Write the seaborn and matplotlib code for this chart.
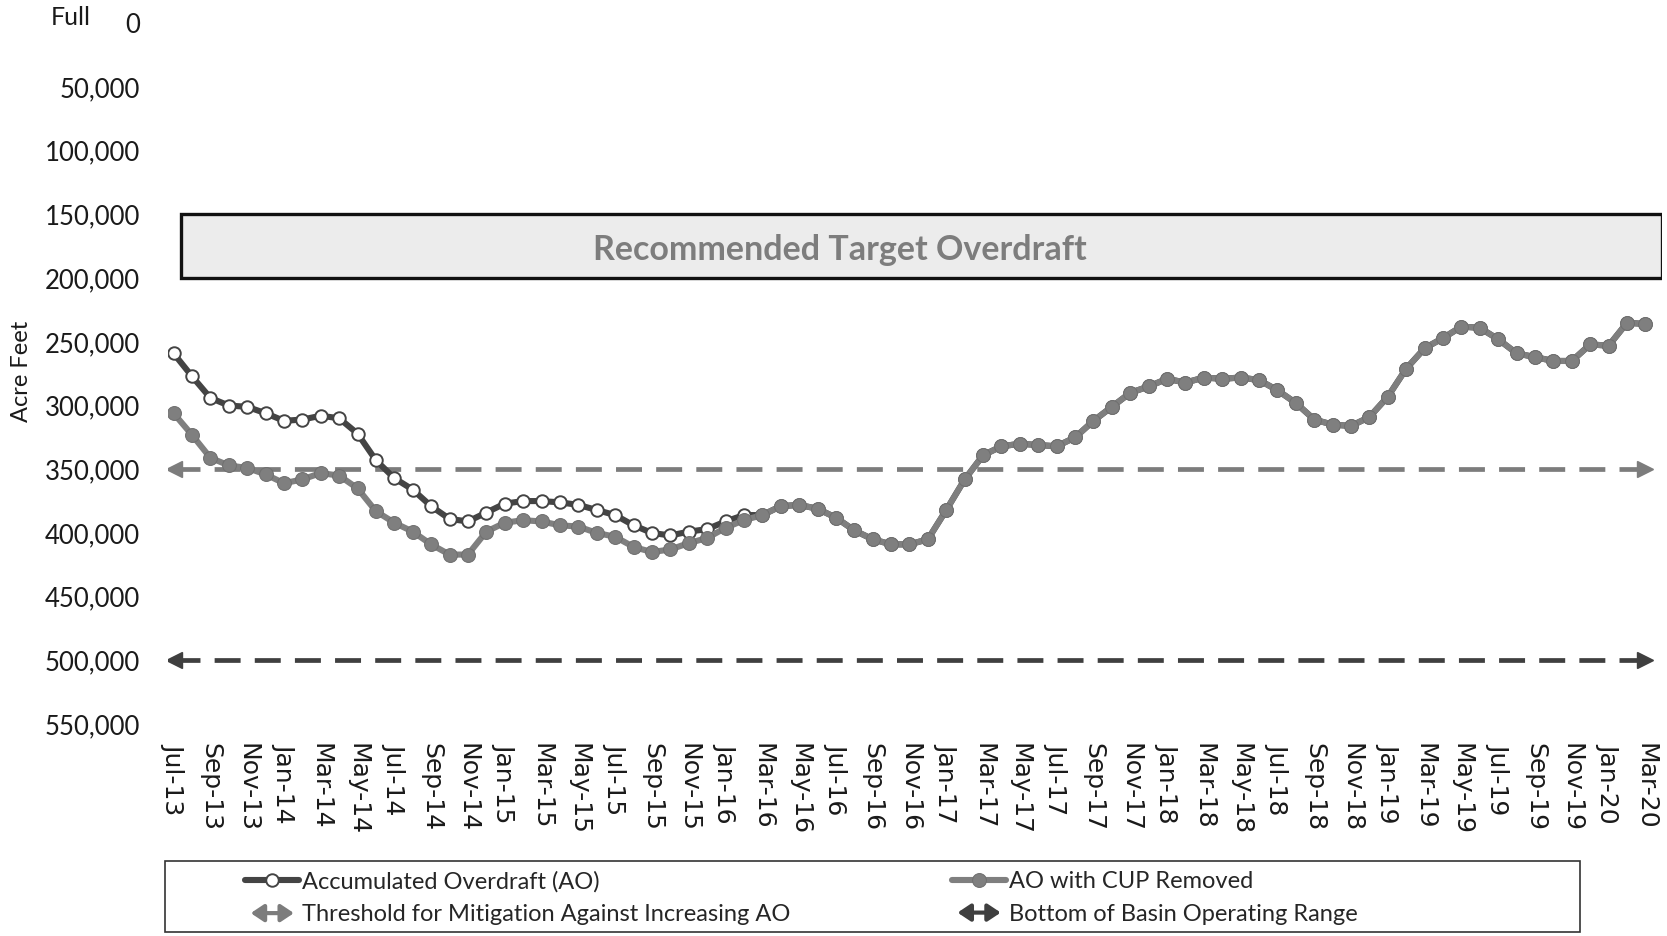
import numpy as np
import pandas as pd
import matplotlib
matplotlib.use("Agg")
from matplotlib import pyplot as plt
from matplotlib.patches import Rectangle, FancyArrowPatch
from matplotlib.legend_handler import HandlerBase
from matplotlib.ticker import FuncFormatter
import seaborn as sns

# monthly, Jul-13 .. Mar-20
months = pd.date_range("2013-07-01", "2020-03-01", freq="MS")
month_labels = [m.strftime("%b-%y") for m in months]

# Accumulated Overdraft (AO), Jul-13 .. Feb-16 (after that it equals the CUP-removed series)
ao = [259000, 277000, 294000, 300000, 301000, 306000, 312000, 311000, 308000, 310000,
      322000, 343000, 357000, 366000, 379000, 389000, 391000, 384000, 377000, 375000,
      375000, 376000, 378000, 382000, 386000, 394000, 400000, 402000, 399000, 397000,
      391000, 386000]

# AO with CUP removed, Jul-13 .. Mar-20
cup = [306000, 323000, 341000, 347000, 349000, 354000, 361000, 358000, 353000, 355000,
       365000, 383000, 392000, 399000, 409000, 417000, 417000, 399000, 392000, 390000,
       391000, 394000, 395000, 400000, 403000, 411000, 415000, 413000, 408000, 404000,
       396000, 390000, 386000, 379000, 378000, 381000, 388000, 398000, 405000, 409000,
       409000, 405000, 382000, 358000, 339000, 332000, 330000, 331000, 332000, 325000,
       312000, 301000, 290000, 285000, 279000, 282000, 278000, 279000, 278000, 280000,
       288000, 298000, 311000, 315000, 316000, 309000, 293000, 271000, 255000, 247000,
       238000, 239000, 248000, 259000, 262000, 265000, 265000, 252000, 253000, 235000,
       236000]

threshold = 350000      # mitigation against increasing AO
basin_bottom = 500000   # bottom of basin operating range
target_band = (150000, 200000)

ao_full = ao + cup[len(ao):]
df = pd.DataFrame({"idx": np.arange(len(months)), "AO": ao_full, "CUP": cup})


class ArrowHandler(HandlerBase):
    # double headed arrow for the legend
    def create_artists(self, legend, orig_handle, xdescent, ydescent, width, height, fontsize, trans):
        y = height / 2 - ydescent
        arr = FancyArrowPatch((-xdescent + 4, y), (width - xdescent - 4, y),
                              arrowstyle="<|-|>,head_length=0.45,head_width=0.3",
                              mutation_scale=fontsize, color=orig_handle.get_color(),
                              lw=3, shrinkA=0, shrinkB=0, transform=trans)
        return [arr]


def main():
    sns.set_style("white")
    plt.rcParams["font.family"] = ["Lato", "DejaVu Sans"]

    fig = plt.figure(figsize=(16.67, 9.36), dpi=100)
    ax = fig.add_axes([0.1008, 0.2265, 0.8962, 0.7485])

    # target band
    ax.add_patch(Rectangle((0.4, target_band[0]), 80.5, target_band[1] - target_band[0],
                           facecolor="#ececec", edgecolor="#111111", lw=2.4, zorder=1))
    ax.text(36.2, 178000, "Recommended Target Overdraft", ha="center", va="center",
            fontsize=24.5, fontweight="bold", color="#7d7d7d", zorder=2)

    # threshold lines with arrow ends
    x_ends = [df["idx"].iloc[0], df["idx"].iloc[-1]]
    thr_line, = ax.plot(x_ends, [threshold] * 2, color="#7c7c7c", lw=3.4, dashes=(5.5, 3), zorder=3)
    bot_line, = ax.plot(x_ends, [basin_bottom] * 2, color="#3f3f3f", lw=3.4, dashes=(5.5, 3), zorder=3)
    for y, c in [(threshold, "#7c7c7c"), (basin_bottom, "#3f3f3f")]:
        ax.plot(x_ends[0], y, marker="<", ms=11, color=c, zorder=3)
        ax.plot(x_ends[1], y, marker=">", ms=11, color=c, zorder=3)

    sns.lineplot(data=df, x="idx", y="AO", ax=ax, color="#444444", lw=4.4, marker="o", ms=9,
                 markerfacecolor="white", markeredgecolor="#444444", markeredgewidth=1.4, zorder=4)
    sns.lineplot(data=df, x="idx", y="CUP", ax=ax, color="#7f7f7f", lw=4.4, marker="o", ms=10,
                 markerfacecolor="#7f7f7f", markeredgecolor="#707070", zorder=5)
    ao_line, cup_line = ax.lines[-2], ax.lines[-1]

    ax.set_ylim(550000, 0)
    ax.set_xlim(-0.3, 80.9)
    ax.set_yticks(np.arange(0, 550001, 50000))
    ax.yaxis.set_major_formatter(FuncFormatter(lambda v, p: f"{int(v):,}"))
    ax.set_xticks(df["idx"][::2])
    ax.set_xticklabels(month_labels[::2], rotation=270, family="DejaVu Sans")
    ax.tick_params(axis="y", length=0, pad=20, labelsize=18.5, labelcolor="#1a1a1a")
    ax.tick_params(axis="x", length=0, pad=14, labelsize=18, labelcolor="#1a1a1a")
    ax.set_xlabel("")
    ax.set_ylabel("")
    for s in ax.spines.values():
        s.set_visible(False)

    ax.text(-0.052, 1.008, "Full", transform=ax.transAxes, ha="right", va="center",
            fontsize=18, color="#1a1a1a")
    fig.text(0.0126, 0.603, "Acre Feet", rotation=90, ha="center", va="center",
             fontsize=17, color="#1a1a1a")

    # legend, two columns in one frame
    fig.patches.append(Rectangle((0.099, 0.004), 0.849, 0.076, transform=fig.transFigure,
                                 facecolor="white", edgecolor="#333333", lw=1.2))
    hmap = {thr_line: ArrowHandler(), bot_line: ArrowHandler()}
    leg_kw = dict(loc="upper left", frameon=False, fontsize=17, handlelength=2.3,
                  handletextpad=0.1, labelspacing=0.5, borderpad=0, handler_map=hmap)
    fig.legend([ao_line, thr_line], ["Accumulated Overdraft (AO)",
                                     "Threshold for Mitigation Against Increasing AO"],
               bbox_to_anchor=(0.140, 0.082), **leg_kw)
    fig.legend([cup_line, bot_line], ["AO with CUP Removed", "Bottom of Basin Operating Range"],
               bbox_to_anchor=(0.564, 0.082), **leg_kw)

    fig.savefig("out.png", dpi=100)


if __name__ == "__main__":
    main()
